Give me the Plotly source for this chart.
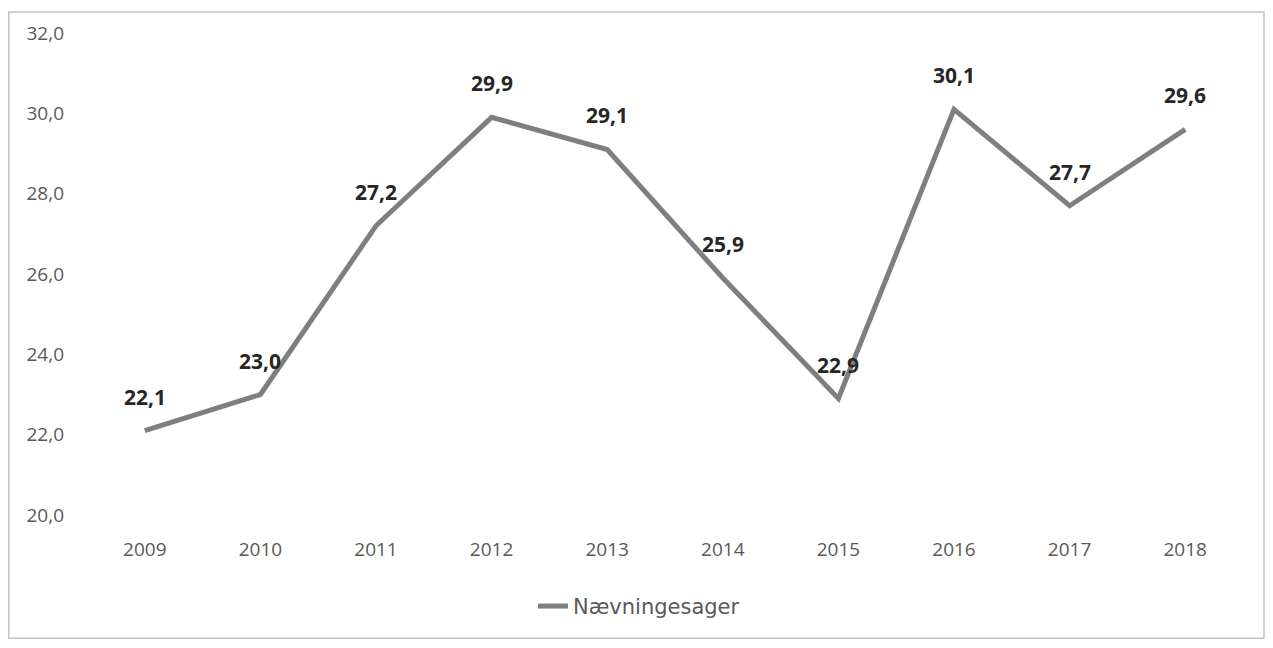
import plotly.graph_objects as go

years = ["2009", "2010", "2011", "2012", "2013", "2014", "2015", "2016", "2017", "2018"]
values = [22.1, 23.0, 27.2, 29.9, 29.1, 25.9, 22.9, 30.1, 27.7, 29.6]
series_name = "Nævningesager"
y_ticks = [20, 22, 24, 26, 28, 30, 32]

# page body adds an 8px offset; figure laid out in page coords minus 8
W, H = 1257, 632
L, T = 79, 22
pw, ph = 1156, 485
R, B = W - L - pw, H - T - ph

fig = go.Figure()
fig.add_trace(go.Scatter(
    x=years, y=values, name=series_name, mode="lines",
    line=dict(color="#7f7f7f", width=5),
))

# data labels: x given as category index on the category axis
annotations = [
    dict(x=i, y=v, xref="x", yref="y", text=f"<b>{v:.1f}</b>".replace(".", ","),
         showarrow=False, yshift=34, xanchor="center", yanchor="middle",
         font=dict(family="Open Sans, sans-serif", size=21, color="#262626"))
    for i, v in enumerate(values)
]

fig.update_layout(
    width=W, height=H,
    margin=dict(l=L, r=R, t=T, b=B),
    paper_bgcolor="white", plot_bgcolor="white",
    separators=",.",
    font=dict(family="Open Sans, sans-serif", size=18, color="#595959"),
    showlegend=True,
    legend=dict(orientation="h", x=0.4775, xanchor="center",
                y=(T + ph - 599) / ph, yanchor="middle",
                font=dict(family="DejaVu Sans, sans-serif", size=21, color="#595959")),
    xaxis=dict(type="category", range=[-0.5, len(years) - 0.5],
               showgrid=False, zeroline=False, showline=False,
               ticklabelstandoff=21, tickfont=dict(size=19)),
    yaxis=dict(range=[20, 32], tickvals=y_ticks, tickformat=".1f",
               showgrid=False, zeroline=False, showline=False,
               ticklabelstandoff=22, tickfont=dict(size=19)),
    annotations=annotations,
    shapes=[dict(type="rect", xref="paper", yref="paper",
                 x0=(0.75 - L) / pw, x1=(W - 1 - L) / pw,
                 y0=(T + ph - (H - 1)) / ph, y1=(T + ph - 0.75) / ph,
                 line=dict(color="#c4c4c4", width=1.5))],
)

fig.write_html("out.html")
